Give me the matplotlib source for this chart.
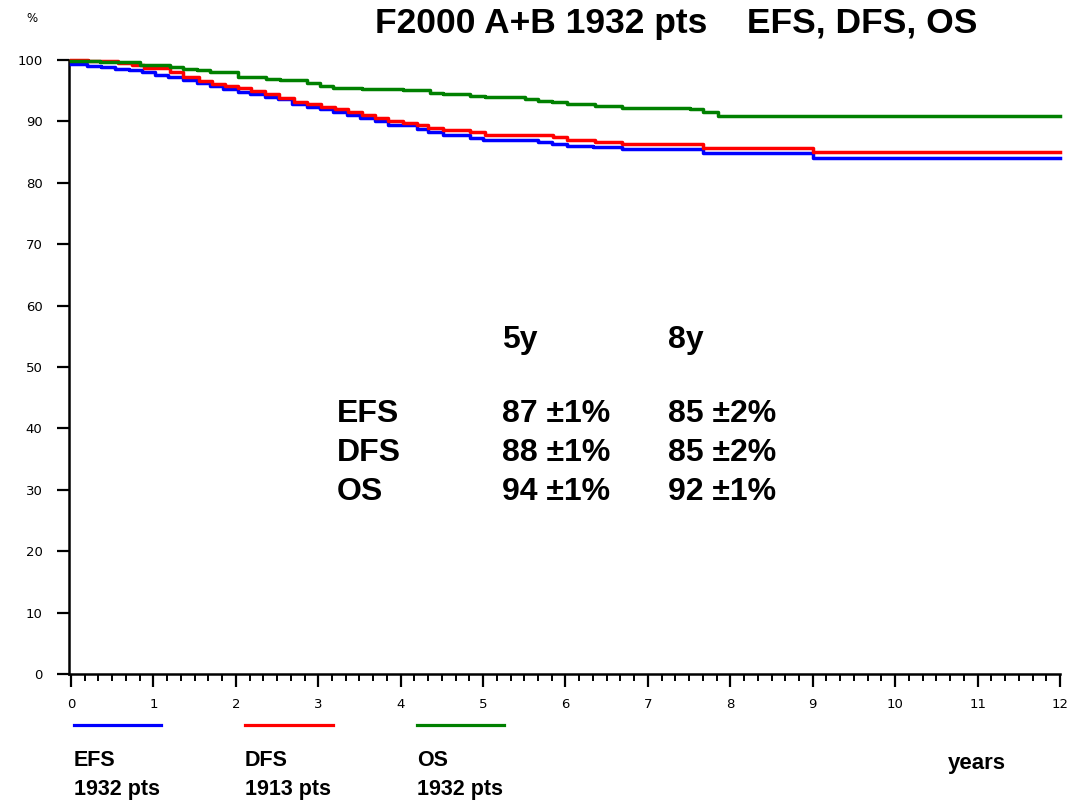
import matplotlib
matplotlib.use("Agg")
import matplotlib.pyplot as plt
from matplotlib.ticker import MultipleLocator

# ---------------- data ----------------
efs_t = [0, 0.19, 0.37, 0.53, 0.70, 0.86, 1.02, 1.18, 1.36, 1.53, 1.69, 1.85, 2.03, 2.17, 2.35,
         2.51, 2.68, 2.86, 3.02, 3.18, 3.35, 3.51, 3.69, 3.85, 4.20, 4.33, 4.51, 4.84, 5.00,
         5.67, 5.84, 6.02, 6.33, 6.69, 7.67, 9.00, 12.0]
efs_v = [99.3, 99.1, 98.8, 98.6, 98.3, 98.0, 97.6, 97.3, 96.8, 96.3, 95.8, 95.3, 94.8, 94.4, 94.0,
         93.6, 92.9, 92.4, 92.0, 91.6, 91.1, 90.5, 90.0, 89.4, 88.8, 88.3, 87.8, 87.3, 87.0,
         86.6, 86.3, 86.0, 85.8, 85.5, 84.8, 84.1, 84.1]

dfs_t = [0, 0.21, 0.57, 0.74, 0.88, 1.20, 1.36, 1.55, 1.71, 1.87, 2.03, 2.19, 2.35, 2.52, 2.70,
         2.86, 3.03, 3.20, 3.36, 3.53, 3.69, 3.85, 4.03, 4.20, 4.33, 4.51, 4.84, 5.02, 5.85,
         6.02, 6.36, 6.69, 7.67, 9.00, 12.0]
dfs_v = [100.0, 99.8, 99.5, 99.2, 98.7, 98.1, 97.2, 96.6, 96.1, 95.7, 95.4, 95.0, 94.4, 93.8, 93.2,
         92.8, 92.4, 92.0, 91.6, 91.1, 90.5, 90.1, 89.7, 89.4, 89.0, 88.6, 88.2, 87.8, 87.4,
         87.0, 86.6, 86.3, 85.6, 85.0, 85.0]

os_t = [0, 0.35, 0.84, 1.20, 1.36, 1.53, 1.69, 2.03, 2.37, 2.54, 2.86, 3.02, 3.18, 3.53, 4.03,
        4.36, 4.51, 4.84, 5.02, 5.51, 5.67, 5.84, 6.02, 6.36, 6.69, 7.51, 7.67, 7.85, 12.0]
os_v = [99.8, 99.6, 99.2, 98.9, 98.6, 98.4, 98.1, 97.3, 96.9, 96.7, 96.2, 95.8, 95.5, 95.3, 95.1,
        94.7, 94.5, 94.2, 93.9, 93.6, 93.3, 93.1, 92.8, 92.5, 92.2, 92.0, 91.5, 90.8, 90.8]

curve_names = ["EFS", "DFS", "OS"]
curve_pts = ["1932 pts", "1913 pts", "1932 pts"]
curve_colors = ["#0000FF", "#FF0000", "#008000"]

table_cols = ["5y", "8y"]
table_rows = ["EFS", "DFS", "OS"]
table_vals = [["87 \u00b11%", "85 \u00b12%"],
              ["88 \u00b11%", "85 \u00b12%"],
              ["94 \u00b11%", "92 \u00b11%"]]

title = "F2000 A+B 1932 pts    EFS, DFS, OS"

# ---------------- figure ----------------
W, H = 1069, 802
fig = plt.figure(figsize=(W / 100, H / 100), dpi=100)
fx = lambda px: px / W
fy = lambda py: 1 - py / H

ax = fig.add_axes([fx(69), fy(674), fx(1060) - fx(69), fy(60) - fy(674)])
ax.set_xlim(-2 / 82.42, 12)
ax.set_ylim(0, 100)

for t, v, c in zip([efs_t, dfs_t, os_t], [efs_v, dfs_v, os_v], curve_colors):
    ax.step(t, v, where="post", color=c, lw=2.5, clip_on=False, zorder=3)

for s in ["top", "right"]:
    ax.spines[s].set_visible(False)
for s in ["left", "bottom"]:
    ax.spines[s].set_linewidth(1.8)

ax.xaxis.set_major_locator(MultipleLocator(1))
ax.xaxis.set_minor_locator(MultipleLocator(1 / 6))
ax.yaxis.set_major_locator(MultipleLocator(10))
ax.tick_params(axis="x", which="major", direction="out", length=9, width=1.6, pad=8, labelsize=9.5)
ax.tick_params(axis="x", which="minor", direction="out", length=5, width=1.4)
ax.tick_params(axis="y", which="major", direction="out", length=9, width=1.6, pad=10, labelsize=9.5)
ax.tick_params(axis="y", which="minor", left=False)

fig.text(fx(32), fy(18), "%", fontsize=8.5, ha="center", va="center")

fig.text(fx(676), fy(24), title, fontsize=25.5, fontweight="bold",
         family="Liberation Sans", ha="center", va="center")

bold = dict(fontweight="bold", family="Liberation Sans")
# inner table
col_x = [502, 668]
row_y = [414, 453, 492]
for x, lab in zip(col_x, table_cols):
    fig.text(fx(x), fy(340), lab, fontsize=23, ha="left", va="center", **bold)
for y, lab, vals in zip(row_y, table_rows, table_vals):
    fig.text(fx(337), fy(y), lab, fontsize=23, ha="left", va="center", **bold)
    for x, val in zip(col_x, vals):
        fig.text(fx(x), fy(y), val, fontsize=23, ha="left", va="center", **bold)

# legend below
leg_x = [(74, 161), (245, 333), (417, 504)]
for (x0, x1), name, pts, c in zip(leg_x, curve_names, curve_pts, curve_colors):
    fig.add_artist(plt.Line2D([fx(x0), fx(x1)], [fy(725), fy(725)], color=c, lw=2.3,
                              transform=fig.transFigure))
    fig.text(fx(x0), fy(761), name, fontsize=15.5, ha="left", va="center", **bold)
    fig.text(fx(x0), fy(789), pts, fontsize=15.5, ha="left", va="center", **bold)

fig.text(fx(948), fy(764), "years", fontsize=16, ha="left", va="center", **bold)

fig.savefig("out.png", dpi=100)
